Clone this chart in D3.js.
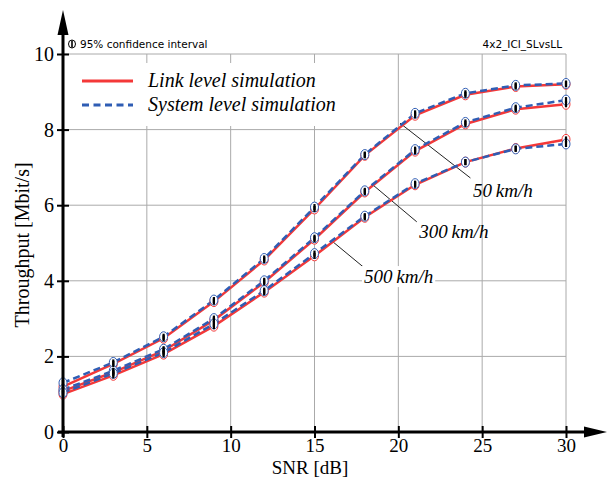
<!DOCTYPE html>
<html>
<head>
<meta charset="utf-8">
<script src="https://cdn.jsdelivr.net/npm/d3@7"></script>
<style>
  body { margin: 0; background: #fff; }
</style>
</head>
<body>
<div id="graph"></div>
<script>
// The data...
var snr = [ 0, 3, 6, 9, 12, 15, 18, 21, 24, 27, 30 ];

var link50  = [ 1.20, 1.80, 2.48, 3.45, 4.55, 5.90, 7.32, 8.38, 8.92, 9.14, 9.20 ];
var sys50   = [ 1.30, 1.84, 2.52, 3.49, 4.59, 5.95, 7.34, 8.43, 8.96, 9.17, 9.22 ];
var link300 = [ 1.08, 1.58, 2.15, 2.96, 3.96, 5.10, 6.35, 7.43, 8.15, 8.54, 8.67 ];
var sys300  = [ 1.12, 1.62, 2.19, 3.00, 4.00, 5.14, 6.38, 7.47, 8.19, 8.58, 8.78 ];
var link500 = [ 1.00, 1.50, 2.06, 2.80, 3.70, 4.66, 5.68, 6.54, 7.14, 7.50, 7.74 ];
var sys500  = [ 1.04, 1.55, 2.10, 2.86, 3.74, 4.72, 5.71, 6.57, 7.14, 7.49, 7.62 ];

var xTicks = [ 0, 5, 10, 15, 20, 25, 30 ];
var yTicks = [ 0, 2, 4, 6, 8, 10 ];

var speedLabels = [ '50\u2009km/h', '300\u2009km/h', '500\u2009km/h' ];
// leader line start / end and label anchor, in data units
var labelFrom = [ [ 20.1, 8.17 ], [ 18.5, 6.53 ], [ 16.1, 5.03 ] ];
var labelTo   = [ [ 24.3, 6.72 ], [ 21.1, 5.56 ], [ 17.9, 4.37 ] ];
var labelAt   = [ [ 24.45, 6.22 ], [ 21.25, 5.13 ], [ 17.95, 3.94 ] ];

var ciHalf = 0.08;

var colours = [ '#f43838', '#2f5db4' ];

var SERIF = "'Liberation Serif', 'Times New Roman', Times, serif";
var SANS  = "'DejaVu Sans', Verdana, sans-serif";

var width = 607, height = 479;
var x0 = 63, x1 = 566, y0 = 432, y1 = 54;

var svg = d3.select ('#graph').append ('svg')
            .attr ('width', width)
            .attr ('height', height);

var xScale = d3.scaleLinear ().domain ([ 0, 30 ]).range ([ x0, x1 ]);
var yScale = d3.scaleLinear ().domain ([ 0, 10 ]).range ([ y0, y1 ]);

// grid
svg.append ('g').selectAll ('line')
   .data (xTicks.slice (1))
   .enter ().append ('line')
   .attr ('x1', function (d) { return xScale (d); })
   .attr ('x2', function (d) { return xScale (d); })
   .attr ('y1', yScale (0))
   .attr ('y2', yScale (10))
   .attr ('stroke', '#aaa')
   .attr ('stroke-width', 1);

svg.append ('g').selectAll ('line')
   .data (yTicks.slice (1))
   .enter ().append ('line')
   .attr ('x1', xScale (0))
   .attr ('x2', xScale (30))
   .attr ('y1', function (d) { return yScale (d); })
   .attr ('y2', function (d) { return yScale (d); })
   .attr ('stroke', '#aaa')
   .attr ('stroke-width', 1);

// legend box hides the grid behind it
svg.append ('rect')
   .attr ('x', 70).attr ('y', 63)
   .attr ('width', 272).attr ('height', 63)
   .attr ('fill', '#fff');

// annotation leader lines
for (var i = 0; i < speedLabels.length; i++)
{
    svg.append ('line')
       .attr ('x1', xScale (labelFrom[i][0])).attr ('y1', yScale (labelFrom[i][1]))
       .attr ('x2', xScale (labelTo[i][0])).attr ('y2', yScale (labelTo[i][1]))
       .attr ('stroke', '#222')
       .attr ('stroke-width', 1);
}

var line = d3.line ()
             .x (function (d, i) { return xScale (snr[i]); })
             .y (function (d) { return yScale (d); });

var series = [
    { v: link50,  c: 0 }, { v: link300, c: 0 }, { v: link500, c: 0 },
    { v: sys50,   c: 1 }, { v: sys300,  c: 1 }, { v: sys500,  c: 1 }
];

series.forEach (function (s)
{
    svg.append ('path')
       .datum (s.v)
       .attr ('d', line)
       .attr ('fill', 'none')
       .attr ('stroke', colours[s.c])
       .attr ('stroke-width', 2.5)
       .attr ('stroke-dasharray', s.c == 1 ? '7,4' : null);
});

series.forEach (function (s)
{
    svg.append ('g').selectAll ('ellipse')
       .data (s.v)
       .enter ().append ('ellipse')
       .attr ('cx', function (d, i) { return xScale (snr[i]); })
       .attr ('cy', function (d) { return yScale (d); })
       .attr ('rx', 4)
       .attr ('ry', 5)
       .attr ('fill', '#fff')
       .attr ('stroke', colours[s.c])
       .attr ('stroke-width', 1);
});

series.forEach (function (s)
{
    svg.append ('g').selectAll ('line')
       .data (s.v)
       .enter ().append ('line')
       .attr ('x1', function (d, i) { return xScale (snr[i]); })
       .attr ('x2', function (d, i) { return xScale (snr[i]); })
       .attr ('y1', function (d) { return yScale (d - ciHalf); })
       .attr ('y2', function (d) { return yScale (d + ciHalf); })
       .attr ('stroke', '#000')
       .attr ('stroke-width', 2.2);
});

// speed labels
for (var i = 0; i < speedLabels.length; i++)
{
    var t = svg.append ('text')
       .attr ('x', xScale (labelAt[i][0]))
       .attr ('y', yScale (labelAt[i][1]))
       .style ('font-family', SERIF)
       .attr ('font-size', '19px')
       .attr ('font-style', 'italic')
       .text (speedLabels[i]);
    if (i == 2)
    {
        var bb = t.node ().getBBox ();
        svg.insert ('rect', function () { return t.node (); })
           .attr ('x', bb.x - 2).attr ('y', bb.y)
           .attr ('width', bb.width + 4).attr ('height', bb.height)
           .attr ('fill', '#fff');
    }
}

// axes
var xAxis = d3.axisBottom (xScale).tickValues (xTicks).tickSizeInner (6).tickSizeOuter (0).tickPadding (1);
var yAxis = d3.axisLeft (yScale).tickValues (yTicks).tickSizeInner (6).tickSizeOuter (0).tickPadding (3);

var gx = svg.append ('g')
            .attr ('transform', 'translate(0,' + y0 + ')')
            .call (xAxis);
gx.select ('.domain').remove ();
gx.selectAll ('.tick line').attr ('y1', -6).attr ('stroke', '#000').attr ('stroke-width', 2);
gx.selectAll ('text').attr ('font-size', '19px').style ('font-family', SERIF).attr ('fill', '#000');

var gy = svg.append ('g')
            .attr ('transform', 'translate(' + x0 + ',0)')
            .call (yAxis);
gy.select ('.domain').remove ();
gy.selectAll ('.tick line').attr ('x1', 6).attr ('stroke', '#000').attr ('stroke-width', 2);
gy.selectAll ('text').attr ('font-size', '20px').style ('font-family', SERIF).attr ('fill', '#000');

// axis lines with arrows
svg.append ('line')
   .attr ('x1', x0 - 5).attr ('x2', 586)
   .attr ('y1', y0).attr ('y2', y0)
   .attr ('stroke', '#000').attr ('stroke-width', 3);
svg.append ('path')
   .attr ('d', 'M584,' + (y0 - 5.5) + 'L607,' + y0 + 'L584,' + (y0 + 5.5) + 'Z')
   .attr ('fill', '#000');

svg.append ('line')
   .attr ('x1', x0).attr ('x2', x0)
   .attr ('y1', y0 + 5).attr ('y2', 33)
   .attr ('stroke', '#000').attr ('stroke-width', 3);
svg.append ('path')
   .attr ('d', 'M' + (x0 - 5.5) + ',35L' + x0 + ',10L' + (x0 + 5.5) + ',35Z')
   .attr ('fill', '#000');

// axis titles
svg.append ('text')
   .attr ('x', 310).attr ('y', 474)
   .attr ('text-anchor', 'middle')
   .style ('font-family', SERIF)
   .attr ('font-size', '19px')
   .text ('SNR [dB]');

svg.append ('text')
   .attr ('transform', 'translate(29,' + yScale (4.95) + ') rotate(-90)')
   .attr ('text-anchor', 'middle')
   .style ('font-family', SERIF)
   .attr ('font-size', '20px')
   .text ('Throughput [Mbit/s]');

// legend
var legendNames = [ 'Link level simulation', 'System level simulation' ];
for (var i = 0; i < legendNames.length; i++)
{
    svg.append ('line')
       .attr ('x1', 82).attr ('x2', 133)
       .attr ('y1', 81 + i * 24).attr ('y2', 81 + i * 24)
       .attr ('stroke', colours[i])
       .attr ('stroke-width', 3)
       .attr ('stroke-dasharray', i == 1 ? '7,4.5' : null);
    svg.append ('text')
       .attr ('x', 148).attr ('y', 87 + i * 24)
       .style ('font-family', SERIF)
       .attr ('font-size', '20px')
       .attr ('font-style', 'italic')
       .text (legendNames[i]);
}

// small notes: marker icon + caption
svg.append ('ellipse')
   .attr ('cx', 72).attr ('cy', 44)
   .attr ('rx', 3.5).attr ('ry', 4)
   .attr ('fill', '#fff').attr ('stroke', '#000').attr ('stroke-width', 1);
svg.append ('line')
   .attr ('x1', 72).attr ('x2', 72)
   .attr ('y1', 40.5).attr ('y2', 47.5)
   .attr ('stroke', '#000').attr ('stroke-width', 1.6);

svg.append ('text')
   .attr ('x', 80).attr ('y', 48)
   .attr ('font-size', '10.5px')
   .style ('font-family', SANS)
   .text ('95% confidence interval');

svg.append ('text')
   .attr ('x', 562).attr ('y', 48)
   .attr ('text-anchor', 'end')
   .attr ('font-size', '10.5px')
   .style ('font-family', SANS)
   .text ('4x2_ICI_SLvsLL');
</script>
</body>
</html>
